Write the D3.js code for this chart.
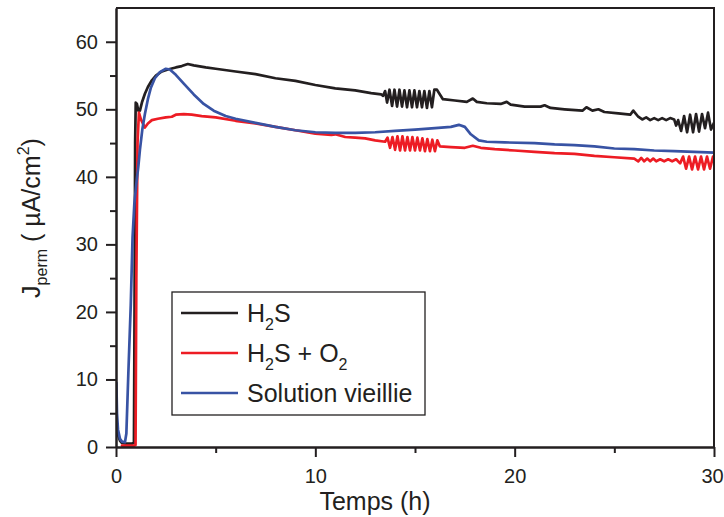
<!DOCTYPE html>
<html>
<head>
<meta charset="utf-8">
<script src="https://cdn.jsdelivr.net/npm/d3@7/dist/d3.min.js"></script>
<style>
  html, body { margin: 0; padding: 0; background: #fff; }
  svg { display: block; }
  text { font-family: "Liberation Sans", Arial, sans-serif; fill: #231f20; }
</style>
</head>
<body>
<svg id="chart" width="724" height="517"></svg>
<script>
// ---------------- DATA ----------------
const xMajorTicks = [0, 10, 20, 30];
const xMinorTicks = [5, 15, 25];
const yMajorTicks = [0, 10, 20, 30, 40, 50, 60];
const yMinorTicks = [5, 15, 25, 35, 45, 55];

const seriesNames = ["H2S", "H2S + O2", "Solution vieillie"];

// H2S (black)
const tH2S = [0.02, 0.1, 0.2, 0.3, 0.5, 0.8, 0.9, 0.93, 0.96, 0.99, 1.05, 1.12, 1.2, 1.3, 1.45, 1.6, 1.8, 2.0, 2.3, 2.6,
  3.0, 3.3, 3.6, 3.9, 4.5, 5.0, 6.0, 7.0, 8.0, 9.0, 10.0, 11.0, 12.0, 12.8, 13.3,
  13.40, 13.50, 13.60, 13.72, 13.85, 13.97, 14.10, 14.22, 14.35, 14.47, 14.60, 14.72, 14.85, 14.97, 15.10, 15.22, 15.35, 15.47, 15.60, 15.72, 15.85, 15.97, 16.10,
  16.4, 17.0, 17.6, 17.9, 18.1, 18.6, 19.3, 19.6, 19.8, 20.5, 21.3, 21.5, 21.8, 22.5, 23.4, 23.6, 23.9, 24.2, 24.5, 25.2, 25.8, 25.95, 26.2,
  26.4, 26.6, 26.8, 27.0, 27.2, 27.4, 27.6, 27.8, 28.0, 28.1,
  28.2, 28.35, 28.5, 28.65, 28.8, 28.95, 29.1, 29.25, 29.4, 29.55, 29.7, 29.85, 30.0];
const jH2S = [3.5, 1.8, 0.9, 0.6, 0.5, 0.5, 0.6, 20, 45, 51.0, 50.8, 49.8, 49.8, 51.0, 52.3, 53.3, 54.3, 55.0, 55.6, 55.9,
  56.2, 56.4, 56.7, 56.5, 56.2, 56.0, 55.6, 55.2, 54.6, 54.2, 53.6, 53.1, 52.8, 52.4, 52.2,
  52.0, 52.7, 51.0, 52.9, 50.5, 52.9, 50.4, 52.9, 50.4, 52.8, 50.3, 52.8, 50.3, 52.8, 50.3, 52.7, 50.3, 52.7, 50.2, 52.7, 50.3, 52.9, 52.9,
  51.5, 51.3, 51.1, 51.6, 51.1, 50.9, 50.8, 51.1, 50.7, 50.4, 50.4, 50.6, 50.2, 50.0, 49.8, 50.3, 49.8, 50.0, 49.6, 49.4, 49.2, 49.8, 48.9,
  48.5, 48.8, 48.4, 48.7, 48.4, 48.7, 48.4, 48.7, 48.5, 47.6,
  48.4, 46.8, 49.0, 46.6, 49.2, 46.6, 49.3, 46.7, 49.3, 47.2, 49.5, 47.0, 48.0];

// H2S + O2 (red)
const tH2SO2 = [0.3, 0.9, 0.98, 1.02, 1.08, 1.15, 1.25, 1.45, 1.6, 1.8, 2.1, 2.5, 2.8, 3.0, 3.4, 3.8, 4.3, 5.0, 6.0, 7.0, 8.0, 9.0, 10.0, 10.8, 11.0, 11.5, 12.0, 12.5, 13.0, 13.5,
  13.62, 13.75, 13.87, 14.0, 14.12, 14.25, 14.37, 14.5, 14.62, 14.75, 14.87, 15.0, 15.12, 15.25, 15.37, 15.5, 15.62, 15.75, 15.87, 16.0, 16.12,
  16.25, 16.8, 17.5, 17.9, 18.3, 19.0, 20.0, 21.0, 22.0, 23.0, 24.0, 25.0, 26.0,
  26.2, 26.35, 26.5, 26.65, 26.8, 26.95, 27.1, 27.3, 27.5, 27.7, 27.9, 28.1, 28.3,
  28.45, 28.6, 28.75, 28.9, 29.05, 29.2, 29.35, 29.5, 29.65, 29.8, 29.95, 30.0];
const jH2SO2 = [0.2, 0.2, 0.3, 25, 45, 49.5, 48.5, 47.3, 47.9, 48.4, 48.6, 48.8, 48.9, 49.2, 49.3, 49.2, 49.0, 48.8, 48.3, 47.9, 47.4, 46.9, 46.4, 46.2, 46.3, 45.9, 45.8, 45.7, 45.4, 45.2,
  45.8, 44.3, 45.9, 44.0, 46.0, 43.9, 46.0, 43.9, 45.9, 43.9, 45.9, 43.9, 45.8, 43.9, 45.7, 43.8, 45.6, 43.8, 45.5, 43.8, 45.4,
  44.5, 44.4, 44.3, 44.6, 44.3, 44.1, 43.9, 43.7, 43.5, 43.4, 43.1, 42.9, 42.7,
  42.3, 42.8, 42.3, 42.7, 42.3, 42.7, 42.3, 42.6, 42.3, 42.6, 42.3, 42.6, 42.0,
  43.0, 41.2, 43.0, 41.1, 43.0, 41.1, 43.0, 41.1, 43.0, 41.2, 43.0, 42.2];

// Solution vieillie (blue)
const tOld = [0.02, 0.05, 0.1, 0.2, 0.3, 0.45, 0.52, 0.62, 0.74, 0.83, 0.92, 1.02, 1.12, 1.2, 1.32, 1.45, 1.6, 1.75, 1.95, 2.2, 2.5, 2.7,
  3.0, 3.4, 3.9, 4.4, 4.9, 5.5, 6.0, 7.0, 8.0, 9.0, 10.0, 11.0, 12.0, 13.0, 14.0, 15.0, 16.0, 16.8, 17.2, 17.5, 17.8, 18.2, 18.6,
  19.5, 21.0, 22.0, 23.0, 24.0, 25.0, 26.0, 27.0, 28.0, 29.0, 30.0];
const jOld = [9.5, 5.0, 2.6, 1.2, 0.8, 0.7, 2.0, 11, 21, 31, 36, 39, 41.5, 44.0, 47.0, 49.3, 51.5, 53.2, 54.6, 55.5, 56.0, 55.9,
  55.1, 53.8, 52.2, 50.8, 49.8, 49.0, 48.6, 48.0, 47.4, 46.9, 46.6, 46.5, 46.5, 46.6, 46.8, 47.0, 47.2, 47.4, 47.7, 47.4, 46.3, 45.4, 45.2,
  45.1, 45.0, 44.8, 44.7, 44.5, 44.2, 44.1, 43.9, 43.8, 43.7, 43.6];

const colors = ["#231f20", "#ed1c24", "#3853a4"];

// ---------------- CHART ----------------
const svg = d3.select("#chart");
const pLeft = 116, pRight = 714, pTop = 8, pBottom = 447;

const x = d3.scaleLinear().domain([0, 30]).range([pLeft, pRight]);
const y = d3.scaleLinear().domain([0, 65]).range([pBottom, pTop]);

svg.append("clipPath").attr("id", "plotclip")
  .append("rect").attr("x", pLeft).attr("y", pTop).attr("width", pRight - pLeft).attr("height", pBottom - pTop);

const series = [
  { t: tH2S, j: jH2S, color: colors[0] },
  { t: tH2SO2, j: jH2SO2, color: colors[1] },
  { t: tOld, j: jOld, color: colors[2] }
];

const line = d3.line().x(d => x(d[0])).y(d => y(d[1])).curve(d3.curveLinear);

const g = svg.append("g").attr("clip-path", "url(#plotclip)");
series.forEach(s => {
  const pts = s.t.map((t, i) => [t, s.j[i]]);
  g.append("path").datum(pts)
    .attr("d", line)
    .attr("fill", "none")
    .attr("stroke", s.color)
    .attr("stroke-width", 2.7)
    .attr("stroke-linejoin", "round")
    .attr("stroke-linecap", "round");
});

// frame (top & right)
svg.append("path")
  .attr("d", `M${pLeft},${pTop}H${pRight}V${pBottom}`)
  .attr("fill", "none").attr("stroke", "#231f20").attr("stroke-width", 2);

// axes
const fontTick = "20px";
const xAxis = svg.append("g").attr("transform", `translate(0,${pBottom})`)
  .call(d3.axisBottom(x).tickValues(xMajorTicks).tickFormat(d3.format("d")).tickSize(10).tickSizeOuter(0).tickPadding(12));
const xMinor = svg.append("g").attr("transform", `translate(0,${pBottom})`)
  .call(d3.axisBottom(x).tickValues(xMinorTicks).tickFormat("").tickSize(6).tickSizeOuter(0));
const yAxis = svg.append("g").attr("transform", `translate(${pLeft},0)`)
  .call(d3.axisLeft(y).tickValues(yMajorTicks).tickFormat(d3.format("d")).tickSize(10).tickSizeOuter(0).tickPadding(8));
const yMinor = svg.append("g").attr("transform", `translate(${pLeft},0)`)
  .call(d3.axisLeft(y).tickValues(yMinorTicks).tickFormat("").tickSize(6).tickSizeOuter(0));

[xAxis, xMinor, yAxis, yMinor].forEach(a => {
  a.selectAll(".domain").attr("stroke", "#231f20").attr("stroke-width", 2);
  a.selectAll(".tick line").attr("stroke", "#231f20").attr("stroke-width", 2);
  a.selectAll(".tick text").attr("font-size", fontTick).attr("font-family", "Liberation Sans, Arial, sans-serif").attr("fill", "#231f20");
});
// keep the last x label inside the window
xAxis.selectAll(".tick text").filter(d => d === 30).attr("dx", -2);

// axis titles
svg.append("text")
  .attr("x", (pLeft + pRight) / 2 - 40).attr("y", 510)
  .attr("text-anchor", "middle").attr("font-size", "25px")
  .text("Temps (h)");

const yt = svg.append("text")
  .attr("transform", "translate(40,218) rotate(-90)")
  .attr("text-anchor", "middle").attr("font-size", "25px");
yt.append("tspan").text("J");
yt.append("tspan").attr("font-size", "16px").attr("dy", 7).text("perm");
yt.append("tspan").attr("dy", -7).text(" ( µA/cm");
yt.append("tspan").attr("font-size", "16px").attr("dy", -11).text("2");
yt.append("tspan").attr("dy", 11).text(")");

// legend
const lg = svg.append("g");
lg.append("rect").attr("x", 172).attr("y", 292).attr("width", 253).attr("height", 123)
  .attr("fill", "#fff").attr("stroke", "#231f20").attr("stroke-width", 1.3);

const legendRows = [
  [{ t: "H" }, { t: "2", sub: true }, { t: "S" }],
  [{ t: "H" }, { t: "2", sub: true }, { t: "S + O" }, { t: "2", sub: true }],
  [{ t: "Solution vieillie" }]
];
legendRows.forEach((parts, i) => {
  const by = 322 + i * 40;
  lg.append("line").attr("x1", 181).attr("x2", 238).attr("y1", by - 9).attr("y2", by - 9)
    .attr("stroke", colors[i]).attr("stroke-width", 2.7);
  const tx = lg.append("text").attr("x", 247).attr("y", by).attr("font-size", "25px")
    .attr("aria-label", seriesNames[i]);
  let shifted = false;
  parts.forEach(p => {
    const ts = tx.append("tspan").text(p.t);
    if (p.sub) { ts.attr("font-size", "16px").attr("dy", 8); shifted = true; }
    else if (shifted) { ts.attr("dy", -8); shifted = false; }
  });
});
</script>
</body>
</html>
